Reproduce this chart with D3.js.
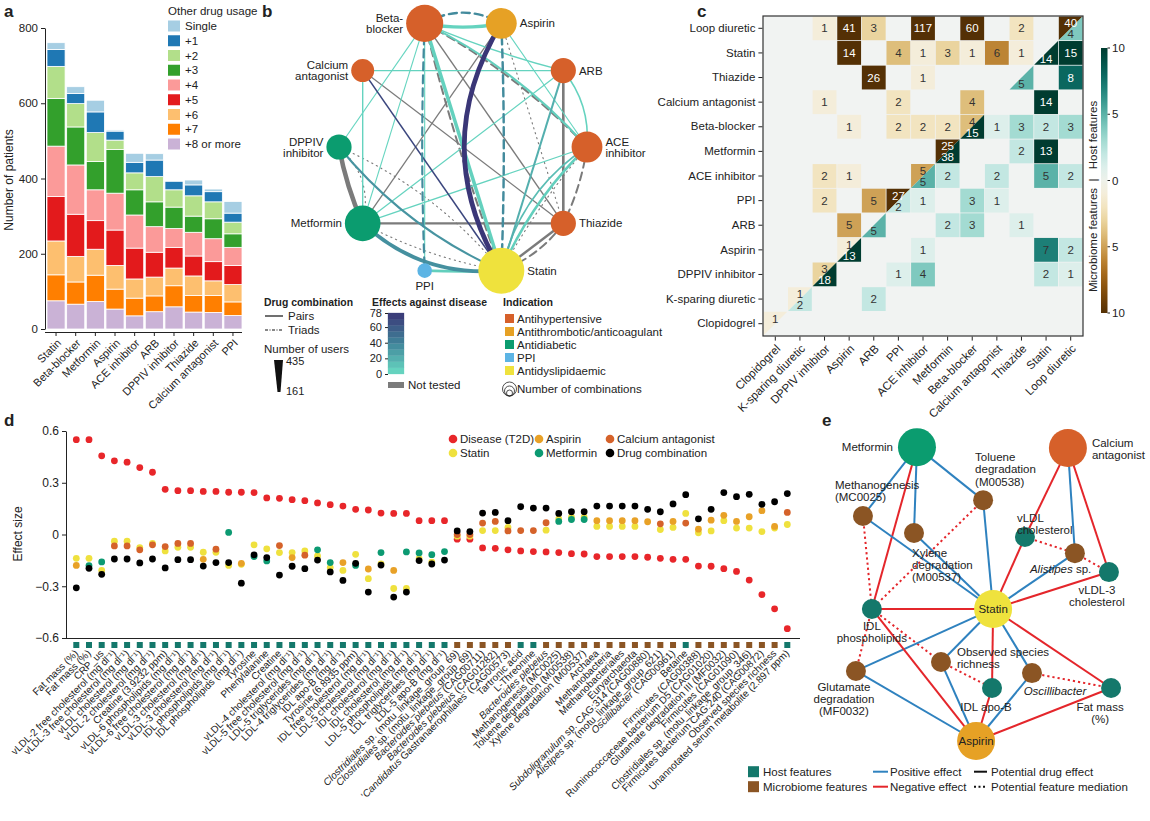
<!DOCTYPE html>
<html>
<head>
<meta charset="utf-8">
<script src="https://cdn.jsdelivr.net/npm/d3@7"></script>
<style>
body { margin: 0; background: #fff; }
svg { font-family: "Liberation Sans", Arial, Helvetica, sans-serif; }
text { fill: #222; }
</style>
</head>
<body>
<svg id="chart" width="1150" height="821"></svg>
<script>
// ---------- panel a: drug usage
const drugsA = ['Statin', 'Beta-blocker', 'Metformin', 'Aspirin', 'ACE inhibitor', 'ARB', 'DPPIV inhibitor', 'Thiazide', 'Calcium antagonist', 'PPI'];
const usageOrder = ['Single', '+1', '+2', '+3', '+4', '+5', '+6', '+7', '+8 or more'];
// patients per drug, from '+8 or more' (bottom) up to 'Single' (top)
const countsA = [
	[75, 69, 90, 118, 134, 127, 85, 45, 18],
	[66, 59, 68, 112, 131, 101, 62, 27, 18],
	[73, 70, 69, 76, 82, 75, 77, 55, 31],
	[53, 53, 63, 94, 98, 116, 25, 24, 3],
	[35, 47, 51, 82, 88, 67, 45, 28, 24],
	[46, 42, 50, 66, 68, 66, 67, 44, 17],
	[59, 56, 47, 55, 50, 57, 46, 23, 2],
	[45, 44, 52, 53, 63, 43, 54, 29, 13],
	[44, 45, 39, 51, 61, 53, 45, 27, 7],
	[36, 36, 46, 51, 48, 36, 31, 24, 31],
];

// ---------- panel b: drug combination network
const bDrugs = ['Beta-blocker', 'Aspirin', 'ARB', 'ACE inhibitor', 'Thiazide', 'Statin', 'PPI', 'Metformin', 'DPPIV inhibitor', 'Calcium antagonist'];
const bClass = ['Antihypertensive', 'Antithrombotic/anticoagulant', 'Antihypertensive', 'Antihypertensive', 'Antihypertensive', 'Antidyslipidaemic', 'PPI', 'Antidiabetic', 'Antidiabetic', 'Antihypertensive'];
const bCombos = [13, 9, 6, 9, 6, 20, 2, 12, 6, 5];
const indications = ['Antihypertensive', 'Antithrombotic/anticoagulant', 'Antidiabetic', 'PPI', 'Antidyslipidaemic'];
// [drug, drug, effects against disease (null = not tested), users, kind]
const bEdges = [
	['Beta-blocker', 'Thiazide', null, 190, 'pair'],
	['Calcium antagonist', 'Thiazide', null, 180, 'pair'],
	['Aspirin', 'Metformin', null, 180, 'pair'],
	['Metformin', 'Thiazide', null, 240, 'pair'],
	['ARB', 'Thiazide', null, 270, 'pair'],
	['Thiazide', 'Statin', null, 260, 'pair'],
	['DPPIV inhibitor', 'Metformin', null, 400, 'pair'],
	['Beta-blocker', 'Statin', null, 230, 'triad'],
	['Beta-blocker', 'ACE inhibitor', null, 230, 'triad'],
	['ACE inhibitor', 'Thiazide', null, 230, 'triad'],
	['Thiazide', 'Statin', null, 230, 'triad'],
	['Aspirin', 'Thiazide', null, 170, 'triad'],
	['ACE inhibitor', 'Statin', null, 170, 'triad'],
	['DPPIV inhibitor', 'Metformin', null, 170, 'triad'],
	['DPPIV inhibitor', 'Statin', null, 170, 'triad'],
	['Metformin', 'Statin', null, 170, 'triad'],
	['Beta-blocker', 'Aspirin', 4, 310, 'pair'],
	['Beta-blocker', 'ARB', 4, 190, 'pair'],
	['Beta-blocker', 'ACE inhibitor', 6, 240, 'pair'],
	['Aspirin', 'ACE inhibitor', 3, 170, 'pair'],
	['Beta-blocker', 'DPPIV inhibitor', 3, 170, 'pair'],
	['Beta-blocker', 'Metformin', 3, 170, 'pair'],
	['Beta-blocker', 'Statin', 5, 330, 'pair'],
	['Beta-blocker', 'PPI', 3, 170, 'pair'],
	['Calcium antagonist', 'ARB', 4, 190, 'pair'],
	['Calcium antagonist', 'Metformin', 4, 190, 'pair'],
	['ARB', 'Metformin', 4, 180, 'pair'],
	['ARB', 'ACE inhibitor', 4, 200, 'pair'],
	['ACE inhibitor', 'Metformin', 4, 180, 'pair'],
	['PPI', 'Statin', 6, 270, 'pair'],
	['ACE inhibitor', 'Statin', 6, 260, 'pair'],
	['ACE inhibitor', 'Statin', 14, 200, 'pair'],
	['ARB', 'Statin', 20, 230, 'pair'],
	['DPPIV inhibitor', 'Statin', 32, 230, 'pair'],
	['Metformin', 'Statin', 34, 350, 'pair'],
	['Calcium antagonist', 'Statin', 70, 200, 'pair'],
	['Beta-blocker', 'Aspirin', 36, 260, 'triad'],
	['Beta-blocker', 'PPI', 36, 240, 'triad'],
	['Aspirin', 'Statin', 36, 260, 'triad'],
	['Aspirin', 'Statin', 78, 420, 'pair'],
];

// ---------- panel c: number of features per drug pair
const cDrugs = ['Clopidogrel', 'K-sparing diuretic', 'DPPIV inhibitor', 'Aspirin', 'ARB', 'PPI', 'ACE inhibitor', 'Metformin', 'Beta-blocker', 'Calcium antagonist', 'Thiazide', 'Statin', 'Loop diuretic'];
const cMicrobiome = [
	['Loop diuretic', 'DPPIV inhibitor', 1], ['Loop diuretic', 'Aspirin', 41], ['Loop diuretic', 'ARB', 3], ['Loop diuretic', 'ACE inhibitor', 117],
	['Loop diuretic', 'Beta-blocker', 60], ['Loop diuretic', 'Thiazide', 2], ['Loop diuretic', 'Loop diuretic', 40],
	['Statin', 'Aspirin', 14], ['Statin', 'PPI', 4], ['Statin', 'ACE inhibitor', 1], ['Statin', 'Metformin', 3],
	['Statin', 'Beta-blocker', 1], ['Statin', 'Calcium antagonist', 6], ['Statin', 'Thiazide', 1],
	['Thiazide', 'ARB', 26], ['Thiazide', 'ACE inhibitor', 1],
	['Calcium antagonist', 'DPPIV inhibitor', 1], ['Calcium antagonist', 'PPI', 2], ['Calcium antagonist', 'Beta-blocker', 4],
	['Beta-blocker', 'Aspirin', 1], ['Beta-blocker', 'PPI', 2], ['Beta-blocker', 'ACE inhibitor', 2], ['Beta-blocker', 'Metformin', 2], ['Beta-blocker', 'Beta-blocker', 4],
	['Metformin', 'Metformin', 25],
	['ACE inhibitor', 'DPPIV inhibitor', 2], ['ACE inhibitor', 'Aspirin', 1], ['ACE inhibitor', 'ACE inhibitor', 5],
	['PPI', 'DPPIV inhibitor', 2], ['PPI', 'ARB', 5], ['PPI', 'PPI', 27],
	['ARB', 'Aspirin', 5],
	['Aspirin', 'Aspirin', 1],
	['DPPIV inhibitor', 'DPPIV inhibitor', 3],
	['K-sparing diuretic', 'K-sparing diuretic', 1],
	['Clopidogrel', 'Clopidogrel', 1],
];
const cHost = [
	['Loop diuretic', 'Loop diuretic', 4],
	['Statin', 'Statin', 14], ['Statin', 'Loop diuretic', 15],
	['Thiazide', 'Thiazide', 5], ['Thiazide', 'Loop diuretic', 8],
	['Calcium antagonist', 'Statin', 14],
	['Beta-blocker', 'Beta-blocker', 15], ['Beta-blocker', 'Calcium antagonist', 1], ['Beta-blocker', 'Thiazide', 3], ['Beta-blocker', 'Statin', 2], ['Beta-blocker', 'Loop diuretic', 3],
	['Metformin', 'Metformin', 38], ['Metformin', 'Thiazide', 2], ['Metformin', 'Statin', 13],
	['ACE inhibitor', 'ACE inhibitor', 5], ['ACE inhibitor', 'Metformin', 2], ['ACE inhibitor', 'Calcium antagonist', 2], ['ACE inhibitor', 'Statin', 5], ['ACE inhibitor', 'Loop diuretic', 2],
	['PPI', 'PPI', 2], ['PPI', 'ACE inhibitor', 1], ['PPI', 'Beta-blocker', 3], ['PPI', 'Calcium antagonist', 1],
	['ARB', 'ARB', 5], ['ARB', 'Metformin', 2], ['ARB', 'Beta-blocker', 3], ['ARB', 'Thiazide', 1],
	['Aspirin', 'Aspirin', 13], ['Aspirin', 'ACE inhibitor', 1], ['Aspirin', 'Statin', 7], ['Aspirin', 'Loop diuretic', 2],
	['DPPIV inhibitor', 'DPPIV inhibitor', 18], ['DPPIV inhibitor', 'PPI', 1], ['DPPIV inhibitor', 'ACE inhibitor', 4], ['DPPIV inhibitor', 'Statin', 2], ['DPPIV inhibitor', 'Loop diuretic', 1],
	['K-sparing diuretic', 'K-sparing diuretic', 2], ['K-sparing diuretic', 'ARB', 2],
];

// ---------- panel d: effect sizes per feature
const featuresD = [
	'Fat mass (%)', 'Fat mass (%)', 'CRP_us', 'vLDL-2 free cholesterol (mg dl⁻¹)', 'vLDL-3 free cholesterol (mg dl⁻¹)',
	'vLDL cholesterol (mg dl⁻¹)', 'vLDL-2 cholesterol (mg dl⁻¹)', 'Creatine (3.9232 ppm)', 'vLDL-6 phospholipids (mg dl⁻¹)',
	'vLDL-6 free cholesterol (mg dl⁻¹)', 'vLDL-3 cholesterol (mg dl⁻¹)', 'vLDL-3 cholesterol (mg dl⁻¹)', 'IDL phospholipids (mg dl⁻¹)',
	'IDL phospholipids (mg dl⁻¹)', 'Tyrosine', 'Phenylalanine', 'Creatine', 'vLDL-4 cholesterol (mg dl⁻¹)',
	'vLDL-5 free cholesterol (mg dl⁻¹)', 'LDL-5 triglycerides (mg dl⁻¹)', 'LDL-4 triglycerides (mg dl⁻¹)', 'IDL apo-B (mg dl⁻¹)',
	'Tyrosine (6.8935 ppm)', 'IDL free cholesterol (mg dl⁻¹)', 'LDL-5 cholesterol (mg dl⁻¹)', 'IDL cholesterol (mg dl⁻¹)',
	'IDL cholesterol (mg dl⁻¹)', 'LDL-5 phospholipids (mg dl⁻¹)', 'LDL triglycerides (mg dl⁻¹)', 'LDL-5 apo-B (mg dl⁻¹)',
	'*Clostridiales* sp. (motu_linkage_group_69)', '*Clostridiales* sp. (motu_linkage_group_69)', '*Bacteroides plebeius* (CAG00711)',
	'*Bacteroides plebeius* (CAG01282)', '‘*Candidatus* Gastranaerophilales’ (CAG00573)', 'Tartronic acid', 'L-Threonine',
	'*Bacteroides plebeius*', 'Methanogenesis (MC0025)', 'Toluene degradation (M00538)', 'Xylene degradation (M00537)', 'Archaea',
	'Methanobacteria', 'Methanobacteriales', 'Euryarchaeota', '*Subdoligranulum* sp. CAG:314 (CAG00880)',
	'*Alistipes* sp. (motu_linkage_group_621)', '*Oscillibacter* (CAG00961)', 'Betaine', 'Firmicutes (CAG00388)',
	'Ruminococcaceae bacterium D5 (CAG01020)', 'Glutamate degradation III (MF0032)', 'Firmicutes (CAG01090)',
	'Clostridiales sp. (motu_linkage_group_346)', 'Firmicutes bacterium CAG:240 (CAG00872)', 'Observed species richness',
	'Unannotated serum metabolite (2.897 ppm)',
];
const featureTypeD = 'HHHHHHHHHHHHHHHHHHHHHHHHHHHHHHMMMMMHHMMMMMMMMMMMHMMMMMMMH'.split('');
const seriesNamesD = ['Disease (T2D)', 'Aspirin', 'Calcium antagonist', 'Statin', 'Metformin', 'Drug combination'];
const t2dD = [0.55, 0.55, 0.456, 0.427, 0.419, 0.388, 0.361, 0.262, 0.254, 0.254, 0.25, 0.25, 0.245, 0.245, 0.243, 0.212, 0.21, 0.202, 0.196, 0.183, 0.173, 0.165, 0.146, 0.142, 0.124, 0.122, 0.122, 0.08, 0.08, 0.08,
	-0.027, -0.027, -0.078, -0.08, -0.089, -0.095, -0.099, -0.101, -0.105, -0.111, -0.113, -0.128, -0.128, -0.128, -0.128, -0.132, -0.138, -0.144, -0.144, -0.183, -0.184, -0.198, -0.214, -0.264, -0.348, -0.431, -0.546];
const aspirinD = [-0.179, null, null, null, null, null, null, null, null, null, -0.144, null, null, -0.167, null, null, null, -0.134, null, null, null, -0.163, null, -0.2, null, -0.208, null, null, null, null,
	null, null, null, null, null, null, null, null, null, null, null, 0.08, 0.08, 0.08, 0.08, 0.074, null, 0.076, null, 0.031, 0.083, 0.111, 0.076, 0.103, 0.138, 0.047, null];
const calciumD = [null, null, null, -0.066, -0.066, -0.089, -0.06, -0.07, -0.052, -0.052, null, -0.085, null, null, null, null, -0.064, null, -0.12, null, null, null, null, null, null, null, null, null, null, null,
	0.0, 0.0, 0.066, 0.076, 0.021, 0.023, 0.023, 0.068, null, null, null, null, null, null, null, null, 0.062, null, 0.066, null, null, null, null, null, null, null, 0.128];
const statinD = [-0.138, -0.138, -0.208, -0.039, -0.039, -0.076, -0.052, -0.095, -0.074, -0.074, -0.103, -0.103, -0.179, -0.173, -0.06, -0.083, -0.105, -0.105, -0.095, -0.124, -0.192, -0.208, -0.115, -0.256, -0.17, -0.313, -0.313, -0.14, -0.16, null,
	-0.01, -0.01, 0.023, 0.023, 0.041, null, null, 0.025, 0.09, 0.1, 0.1, 0.047, 0.047, 0.047, 0.047, null, 0.029, 0.041, 0.122, 0.01, 0.021, 0.08, 0.037, 0.037, 0.017, 0.037, 0.058];
const metforminD = [null, -0.18, -0.159, null, null, null, null, null, null, null, null, null, 0.012, null, -0.128, -0.153, null, null, null, -0.089, -0.163, null, -0.179, null, -0.105, null, -0.101, -0.107, -0.117, -0.099,
	null, null, null, null, null, null, null, null, 0.076, 0.087, 0.087, null, null, null, null, null, null, null, null, null, null, null, null, null, null, null, null];
const comboD = [-0.309, -0.196, -0.231, -0.142, -0.142, -0.165, -0.142, -0.194, -0.146, -0.146, -0.183, -0.163, -0.163, -0.282, -0.118, -0.134, -0.235, -0.184, -0.198, -0.148, -0.217, -0.266, -0.167, -0.334, -0.177, -0.363, -0.334, -0.151, -0.171, -0.148,
	0.021, 0.017, 0.124, 0.128, 0.08, 0.161, 0.153, 0.153, 0.122, 0.132, 0.132, 0.165, 0.165, 0.165, 0.165, 0.146, 0.132, 0.177, 0.231, 0.091, 0.146, 0.243, 0.219, 0.233, 0.175, 0.19, 0.237];

// ---------- panel e: drug / feature network (layout units 0-100)
const eNodes = [
	['Metformin', 'drug', 24.8, 2.3], ['Calcium antagonist', 'drug', 80.7, 2.6],
	['Methanogenesis (MC0025)', 'microbiome', 4.8, 24.5], ['Toluene degradation (M00538)', 'microbiome', 49.3, 19.4],
	['Xylene degradation (M00537)', 'microbiome', 23.7, 30], ['vLDL cholesterol', 'host', 64.8, 31.3],
	['Alistipes sp.', 'microbiome', 83.3, 36.5], ['vLDL-3 cholesterol', 'host', 95.9, 42.6],
	['Statin', 'drug', 53, 54.5], ['IDL phospholipids', 'host', 8.1, 54.5],
	['Glutamate degradation (MF0032)', 'microbiome', 2.2, 74.5], ['Observed species richness', 'microbiome', 33.7, 71.6],
	['IDL apo-B', 'host', 52.6, 80], ['Oscillibacter', 'microbiome', 67.4, 75.2],
	['Fat mass (%)', 'host', 96.7, 80], ['Aspirin', 'drug', 46.7, 97.1],
];
const eEdges = [
	['Methanogenesis (MC0025)', 'IDL phospholipids', '-', 'mediation'],
	['Toluene degradation (M00538)', 'IDL phospholipids', '-', 'mediation'],
	['vLDL cholesterol', 'Alistipes sp.', '-', 'mediation'],
	['Alistipes sp.', 'vLDL-3 cholesterol', '-', 'mediation'],
	['IDL phospholipids', 'Glutamate degradation (MF0032)', '-', 'mediation'],
	['IDL phospholipids', 'Observed species richness', '-', 'mediation'],
	['Observed species richness', 'IDL apo-B', '-', 'mediation'],
	['Oscillibacter', 'Fat mass (%)', '-', 'mediation'],
	['Metformin', 'Methanogenesis (MC0025)', '+', 'drug'],
	['Metformin', 'Xylene degradation (M00537)', '+', 'drug'],
	['Metformin', 'Toluene degradation (M00538)', '+', 'drug'],
	['Metformin', 'IDL phospholipids', '-', 'drug'],
	['Calcium antagonist', 'vLDL cholesterol', '-', 'drug'],
	['Calcium antagonist', 'Alistipes sp.', '+', 'drug'],
	['Calcium antagonist', 'vLDL-3 cholesterol', '-', 'drug'],
	['Statin', 'Methanogenesis (MC0025)', '+', 'drug'],
	['Statin', 'Xylene degradation (M00537)', '+', 'drug'],
	['Statin', 'Toluene degradation (M00538)', '+', 'drug'],
	['Statin', 'vLDL cholesterol', '-', 'drug'],
	['Statin', 'Alistipes sp.', '+', 'drug'],
	['Statin', 'vLDL-3 cholesterol', '-', 'drug'],
	['Statin', 'IDL phospholipids', '-', 'drug'],
	['Statin', 'Glutamate degradation (MF0032)', '+', 'drug'],
	['Statin', 'Observed species richness', '+', 'drug'],
	['Statin', 'IDL apo-B', '-', 'drug'],
	['Statin', 'Oscillibacter', '+', 'drug'],
	['Statin', 'Fat mass (%)', '-', 'drug'],
	['Aspirin', 'IDL phospholipids', '-', 'drug'],
	['Aspirin', 'Glutamate degradation (MF0032)', '+', 'drug'],
	['Aspirin', 'Observed species richness', '+', 'drug'],
	['Aspirin', 'IDL apo-B', '-', 'drug'],
	['Aspirin', 'Oscillibacter', '+', 'drug'],
	['Aspirin', 'Fat mass (%)', '-', 'drug'],
];

const svg = d3.select('#chart');
const drugColor = {
	'Antihypertensive': '#d6602a',
	'Antithrombotic/anticoagulant': '#e6a125',
	'Antidiabetic': '#0b9c6f',
	'PPI': '#5cb4e4',
	'Antidyslipidaemic': '#efe23d',
};

function styleAxis(g, size) {
	g.attr('font-size', size).attr('font-family', null);
	g.selectAll('text').style('fill', '#222');
	g.selectAll('line, path').attr('stroke', '#222');
}
function richText(sel, str) {
	str.split('*').forEach((part, i) => {
		if (part) sel.append('tspan').attr('font-style', i % 2 ? 'italic' : null).text(part);
	});
}
function panelLabel(t, x, y) {
	svg.append('text').attr('x', x).attr('y', y).attr('font-size', 17).attr('font-weight', 'bold').text(t);
}

// ================= a =================
{
	const g = svg.append('g');
	const x = d3.scaleBand().domain(drugsA).range([47, 242]).paddingInner(0.08);
	const y = d3.scaleLinear().domain([0, 800]).range([329, 28]);
	const color = d3.scaleOrdinal().domain(usageOrder).range(d3.schemePaired);
	const keys = usageOrder.slice().reverse();
	const rows = drugsA.map((d, i) => {
		const r = { drug: d };
		keys.forEach((k, j) => (r[k] = countsA[i][j]));
		return r;
	});
	const stacked = d3.stack().keys(keys)(rows);
	g.selectAll('g.layer').data(stacked).join('g').attr('fill', (s) => color(s.key))
		.selectAll('rect').data((s) => s).join('rect')
		.attr('x', (d) => x(d.data.drug))
		.attr('width', x.bandwidth())
		.attr('y', (d) => y(d[1]))
		.attr('height', (d) => y(d[0]) - y(d[1]))
		.attr('stroke', '#fff').attr('stroke-width', 0.8);

	const ya = g.append('g').attr('transform', 'translate(45,0)')
		.call(d3.axisLeft(y).tickValues([0, 200, 400, 600, 800]).tickSize(4).tickSizeOuter(0));
	styleAxis(ya, 11.5);
	const xa = g.append('g').attr('transform', 'translate(0,332)')
		.call(d3.axisBottom(x).tickSize(4).tickSizeOuter(0));
	styleAxis(xa, 11);
	xa.select('.domain').attr('d', 'M45,0.5H242');
	xa.selectAll('text').attr('x', 0).attr('y', 0).attr('dy', '0.35em')
		.attr('text-anchor', 'end').attr('transform', 'translate(3,9) rotate(-45)');
	g.append('text').attr('transform', 'translate(13,180) rotate(-90)').attr('text-anchor', 'middle')
		.attr('font-size', 12).text('Number of patients');

	const leg = g.append('g').attr('transform', 'translate(168,0)');
	leg.append('text').attr('x', 0).attr('y', 15).attr('font-size', 11.5).text('Other drug usage');
	const li = leg.selectAll('g.li').data(usageOrder).join('g')
		.attr('transform', (d, i) => `translate(0,${26 + i * 14.75})`);
	li.append('rect').attr('x', 0).attr('y', -5.5).attr('width', 12).attr('height', 11).attr('fill', (d) => color(d));
	li.append('text').attr('x', 17).attr('dy', '0.35em').attr('font-size', 11.5).text((d) => d);
}

// ================= b =================
{
	const g = svg.append('g');
	const cx = 463, cy = 147, rx = 124, ry = 130;
	const rScale = d3.scaleSqrt().domain([0, 20]).range([0, 23]);
	const nodes = bDrugs.map((d, i) => {
		const a = ((-108 + 36 * i) * Math.PI) / 180;
		return { name: d, cls: bClass[i], r: rScale(bCombos[i]), x: cx + rx * Math.cos(a), y: cy + ry * Math.sin(a), ang: a };
	});
	const byName = new Map(nodes.map((n) => [n.name, n]));
	const effColor = d3.scaleLinear().domain([0, 40, 78]).range(['#69dcc3', '#3f8299', '#3a3677']);
	const width = d3.scaleLinear().domain([161, 435]).range([1, 5]);
	// curvature per edge (same order as bEdges)
	const bend = [0, 0, 0, 0, 0, 0, 0.06, 0.03, -0.08, -0.08, -0.15, 0, 0.05, -0.3, -0.12, 0.08,
		0.1, 0.04, -0.1, 0, 0, 0, 0, 0, 0, 0, 0, -0.2, 0, 0.02, 0.1, 0.2, 0, 0.12, 0.22, 0, -0.28, 0.02, -0.02, 0.3];
	function curve(a, b, k) {
		const dx = b.x - a.x, dy = b.y - a.y;
		const mx = (a.x + b.x) / 2 - dy * k, my = (a.y + b.y) / 2 + dx * k;
		return `M${a.x},${a.y}Q${mx},${my} ${b.x},${b.y}`;
	}
	g.selectAll('path.edge').data(bEdges).join('path')
		.attr('d', (e, i) => curve(byName.get(e[0]), byName.get(e[1]), bend[i] || 0))
		.attr('fill', 'none')
		.attr('stroke', (e) => (e[2] === null ? '#7b7b7b' : effColor(e[2])))
		.attr('stroke-width', (e) => width(e[3]))
		.attr('stroke-dasharray', (e) => (e[4] === 'pair' ? null : e[3] < 200 ? '1.2,4' : '8,5'))
		.attr('stroke-linecap', (e) => (e[4] === 'pair' ? null : 'round'));
	g.selectAll('circle.node').data(nodes).join('circle')
		.attr('cx', (d) => d.x).attr('cy', (d) => d.y).attr('r', (d) => d.r)
		.attr('fill', (d) => drugColor[d.cls]);

	const lines = { 'Beta-blocker': ['Beta-', 'blocker'], 'Calcium antagonist': ['Calcium', 'antagonist'], 'DPPIV inhibitor': ['DPPIV', 'inhibitor'], 'ACE inhibitor': ['ACE', 'inhibitor'] };
	nodes.forEach((n) => {
		const ls = lines[n.name] || [n.name];
		const c = Math.cos(n.ang);
		let anchor = c > 0.05 ? 'start' : 'end';
		let tx = n.x + (c > 0.05 ? n.r + 3 : -n.r - 3), ty = n.y;
		if (n.name === 'PPI') { anchor = 'middle'; tx = n.x; ty = n.y + n.r + 8; }
		const t = g.append('text').attr('font-size', 11.5).attr('text-anchor', anchor);
		ls.forEach((l, i) => {
			t.append('tspan').attr('x', tx).attr('y', ty + (i - (ls.length - 1) / 2) * 11).attr('dy', '0.35em').text(l);
		});
	});

	// legends
	const L = g.append('g');
	const title = (t, x0, w) => L.append('text').attr('x', x0).attr('y', 306).attr('font-size', 11.5).attr('font-weight', 'bold')
		.attr('textLength', w).attr('lengthAdjust', 'spacingAndGlyphs').text(t);
	title('Drug combination', 264, 89);
	L.append('line').attr('x1', 265).attr('x2', 283).attr('y1', 316).attr('y2', 316).attr('stroke', '#111').attr('stroke-width', 1.2);
	L.append('text').attr('x', 288).attr('y', 316).attr('dy', '0.35em').attr('font-size', 11.5).text('Pairs');
	L.append('line').attr('x1', 265).attr('x2', 283).attr('y1', 330).attr('y2', 330).attr('stroke', '#111').attr('stroke-width', 1).attr('stroke-dasharray', '3,1.5,1,1.5');
	L.append('text').attr('x', 288).attr('y', 330).attr('dy', '0.35em').attr('font-size', 11.5).text('Triads');
	L.append('text').attr('x', 264).attr('y', 353).attr('font-size', 11.5).text('Number of users');
	L.append('path').attr('d', 'M274,360L283,360L280.5,392L277.5,392Z').attr('fill', '#111');
	L.append('text').attr('x', 286).attr('y', 361).attr('dy', '0.35em').attr('font-size', 11).text('435');
	L.append('text').attr('x', 286).attr('y', 391).attr('dy', '0.35em').attr('font-size', 11).text('161');

	title('Effects against disease', 372, 115);
	const cbY = d3.scaleLinear().domain([0, 78]).range([374, 313]);
	const bands = d3.range(0, 78, 78 / 10);
	L.selectAll('rect.cb').data(bands).join('rect')
		.attr('x', 388).attr('width', 16)
		.attr('y', (d) => cbY(d + 7.8)).attr('height', cbY(0) - cbY(7.8))
		.attr('fill', (d) => effColor(d + 3.9))
		.attr('stroke', (d) => effColor(d + 3.9)).attr('stroke-width', 0.3);
	const cba = L.append('g').attr('transform', 'translate(388,0)')
		.call(d3.axisLeft(cbY).tickValues([0, 20, 40, 60, 78]).tickSize(3).tickSizeOuter(0));
	styleAxis(cba, 11);
	cba.select('.domain').remove();
	L.append('rect').attr('x', 388).attr('y', 382).attr('width', 16).attr('height', 6).attr('fill', '#7b7b7b');
	L.append('text').attr('x', 408).attr('y', 385).attr('dy', '0.35em').attr('font-size', 11.5).text('Not tested');

	title('Indication', 503, 50);
	const il = L.selectAll('g.ind').data(indications).join('g').attr('transform', (d, i) => `translate(505,${318.5 + i * 13})`);
	il.append('rect').attr('x', 0).attr('y', -4.5).attr('width', 9).attr('height', 9).attr('fill', (d) => drugColor[d]);
	il.append('text').attr('x', 12).attr('dy', '0.35em').attr('font-size', 11.5).text((d) => d);
	[7, 5, 3].forEach((r) => {
		L.append('circle').attr('cx', 509.5).attr('cy', 396 - r).attr('r', r).attr('fill', 'none').attr('stroke', '#222').attr('stroke-width', 0.8);
	});
	L.append('text').attr('x', 517).attr('y', 389).attr('dy', '0.35em').attr('font-size', 11.5).text('Number of combinations');
}

// ================= c =================
{
	const g = svg.append('g');
	const rowsC = cDrugs.slice().reverse();
	const x = d3.scaleBand().domain(cDrugs).range([763, 1083]);
	const y = d3.scaleBand().domain(rowsC).range([16, 336]);
	const hostCol = (v) => d3.interpolateBrBG(0.5 + Math.min(v, 10) / 20);
	const microCol = (v) => d3.interpolateBrBG(0.5 - Math.min(v, 10) / 20);
	const bw = x.bandwidth(), bh = y.bandwidth();
	g.append('rect').attr('x', 763).attr('y', 16).attr('width', 320).attr('height', 320).attr('fill', '#f1f3f2');

	const cells = [];
	cMicrobiome.forEach(([r, c, v]) => cells.push({ r, c, v, type: 'micro' }));
	cHost.forEach(([r, c, v]) => cells.push({ r, c, v, type: 'host' }));
	cells.forEach((d) => {
		d.x0 = x(d.c); d.y0 = y(d.r); d.diag = d.r === d.c;
	});
	g.selectAll('rect.cell').data(cells.filter((d) => !d.diag)).join('rect')
		.attr('x', (d) => d.x0 + 0.4).attr('y', (d) => d.y0 + 0.4)
		.attr('width', bw - 0.8).attr('height', bh - 0.8)
		.attr('fill', (d) => (d.type === 'host' ? hostCol(d.v) : microCol(d.v)));
	g.selectAll('path.tri').data(cells.filter((d) => d.diag)).join('path')
		.attr('d', (d) => {
			const a = d.x0 + 0.4, b = d.y0 + 0.4, w = bw - 0.8, h = bh - 0.8;
			return d.type === 'micro'
				? `M${a},${b}H${a + w}L${a},${b + h}Z`
				: `M${a + w},${b}V${b + h}H${a}Z`;
		})
		.attr('fill', (d) => (d.type === 'host' ? hostCol(d.v) : microCol(d.v)));
	g.selectAll('text.val').data(cells).join('text')
		.attr('x', (d) => d.x0 + bw / 2)
		.attr('y', (d) => d.y0 + bh / 2 + (d.diag ? (d.type === 'micro' ? -5 : 6) : 0))
		.attr('dy', '0.35em').attr('text-anchor', 'middle').attr('font-size', 11.5)
		.style('fill', (d) => (d.v >= 8 ? '#fff' : '#333'))
		.text((d) => d.v);
	g.append('rect').attr('x', 763).attr('y', 16).attr('width', 320).attr('height', 320)
		.attr('fill', 'none').attr('stroke', '#333').attr('stroke-width', 1.2);

	const ya = g.append('g').attr('transform', 'translate(762.4,0)').call(d3.axisLeft(y).tickSize(4).tickSizeOuter(0));
	styleAxis(ya, 11.5);
	ya.select('.domain').remove();
	const xa = g.append('g').attr('transform', 'translate(0,336.6)').call(d3.axisBottom(x).tickSize(4).tickSizeOuter(0));
	styleAxis(xa, 11.5);
	xa.select('.domain').remove();
	xa.selectAll('text').attr('x', 0).attr('y', 0).attr('dy', '0.35em')
		.attr('text-anchor', 'end').attr('transform', 'translate(3,10) rotate(-45)');

	// colour bar
	const defs = svg.append('defs');
	const grad = defs.append('linearGradient').attr('id', 'brbg').attr('x1', 0).attr('x2', 0).attr('y1', 0).attr('y2', 1);
	d3.range(0, 1.0001, 0.05).forEach((t) => grad.append('stop').attr('offset', t).attr('stop-color', d3.interpolateBrBG(1 - t)));
	g.append('rect').attr('x', 1101).attr('y', 48).attr('width', 6.5).attr('height', 265).attr('fill', 'url(#brbg)');
	const cbs = d3.scaleLinear().domain([0, 4]).range([48, 313]);
	const cbl = ['10', '5', '0', '5', '10'];
	cbl.forEach((t, i) => {
		g.append('line').attr('x1', 1107.5).attr('x2', 1110).attr('y1', cbs(i)).attr('y2', cbs(i)).attr('stroke', '#222');
		g.append('text').attr('x', 1112).attr('y', cbs(i)).attr('dy', '0.35em').attr('font-size', 11.5).text(t);
	});
	g.append('text').attr('transform', 'translate(1093,135) rotate(-90)').attr('text-anchor', 'middle').attr('dy', '0.35em').attr('font-size', 11.5).text('Host features');
	g.append('text').attr('transform', 'translate(1093,180) rotate(-90)').attr('text-anchor', 'middle').attr('dy', '0.35em').attr('font-size', 11.5).text('|');
	g.append('text').attr('transform', 'translate(1093,240) rotate(-90)').attr('text-anchor', 'middle').attr('dy', '0.35em').attr('font-size', 11.5).text('Microbiome features');
}

// ================= d =================
{
	const g = svg.append('g');
	const x = d3.scalePoint().domain(d3.range(featuresD.length)).range([76.3, 787.3]);
	const y = d3.scaleLinear().domain([-0.6, 0.6]).range([638, 431]);
	const colors = { 'Disease (T2D)': '#e8262a', 'Aspirin': '#e8a127', 'Calcium antagonist': '#d5622a', 'Statin': '#efe13e', 'Metformin': '#0c9a72', 'Drug combination': '#000' };
	const values = { 'Disease (T2D)': t2dD, 'Aspirin': aspirinD, 'Calcium antagonist': calciumD, 'Statin': statinD, 'Metformin': metforminD, 'Drug combination': comboD };
	const drawOrder = ['Disease (T2D)', 'Statin', 'Aspirin', 'Calcium antagonist', 'Metformin', 'Drug combination'];
	drawOrder.forEach((s) => {
		const pts = values[s].map((v, i) => ({ i, v })).filter((d) => d.v !== null);
		g.selectAll(null).data(pts).join('circle')
			.attr('cx', (d) => x(d.i)).attr('cy', (d) => y(d.v)).attr('r', 3.4)
			.attr('fill', colors[s]);
	});
	const ya = g.append('g').attr('transform', 'translate(66,0)')
		.call(d3.axisLeft(y).tickValues([-0.6, -0.3, 0, 0.3, 0.6]).tickSize(4).tickSizeOuter(0)
			.tickFormat((d) => (d === 0 ? '0' : d3.format('.1f')(d))));
	styleAxis(ya, 12);
	g.append('line').attr('x1', 66).attr('x2', 800).attr('y1', 638.5).attr('y2', 638.5).attr('stroke', '#222');
	g.append('text').attr('transform', 'translate(22,534) rotate(-90)').attr('text-anchor', 'middle').attr('font-size', 12).text('Effect size');

	g.selectAll('rect.ft').data(featureTypeD).join('rect')
		.attr('x', (d, i) => x(i) - 3).attr('y', 642).attr('width', 6).attr('height', 6)
		.attr('fill', (d) => (d === 'H' ? '#14786b' : '#8b5524'));
	featuresD.forEach((f, i) => {
		const t = g.append('text').attr('font-size', 10).attr('text-anchor', 'end')
			.attr('transform', `translate(${x(i) + 2.5},${654}) rotate(-45)`);
		richText(t, f);
	});

	// legend: row 1 Disease, Aspirin, Calcium; row 2 Statin, Metformin, Drug combination
	const leg = g.selectAll('g.dl').data(seriesNamesD).join('g')
		.attr('transform', (d, i) => `translate(${[453, 539, 610][i % 3]},${i < 3 ? 439 : 453})`);
	leg.append('circle').attr('r', 4.3).attr('fill', (d) => colors[d]);
	leg.append('text').attr('x', 7).attr('dy', '0.35em').attr('font-size', 11.5).text((d) => d);
}

// ================= e =================
{
	const g = svg.append('g');
	const x = d3.scaleLinear().domain([0, 100]).range([850, 1120]);
	const y = d3.scaleLinear().domain([0, 100]).range([440, 750]);
	const nodes = eNodes.map(([name, type, u, v]) => ({ name, type, x: x(u), y: y(v) }));
	const byName = new Map(nodes.map((n) => [n.name, n]));
	const typeColor = { host: '#14786b', microbiome: '#8b5524' };
	const drugFill = { 'Metformin': drugColor.Antidiabetic, 'Calcium antagonist': drugColor.Antihypertensive, 'Statin': drugColor.Antidyslipidaemic, 'Aspirin': drugColor['Antithrombotic/anticoagulant'] };

	g.selectAll('line.ee').data(eEdges).join('line')
		.attr('x1', (e) => byName.get(e[0]).x).attr('y1', (e) => byName.get(e[0]).y)
		.attr('x2', (e) => byName.get(e[1]).x).attr('y2', (e) => byName.get(e[1]).y)
		.attr('stroke', (e) => (e[2] === '+' ? '#2f82bf' : '#e4262b'))
		.attr('stroke-width', 2)
		.attr('stroke-dasharray', (e) => (e[3] === 'mediation' ? '2.2,3' : null));
	g.selectAll('circle.en').data(nodes).join('circle')
		.attr('cx', (d) => d.x).attr('cy', (d) => d.y)
		.attr('r', (d) => (d.type === 'drug' ? 19 : 10))
		.attr('fill', (d) => (d.type === 'drug' ? drugFill[d.name] : typeColor[d.type]));

	// label placement: [dx, first-line dy, anchor, lines]
	const place = {
		'Metformin': [-24, 0, 'end', ['Metformin']],
		'Calcium antagonist': [24, -5, 'start', ['Calcium', 'antagonist']],
		'Methanogenesis (MC0025)': [-28, -31, 'start', ['Methanogenesis', '(MC0025)']],
		'Toluene degradation (M00538)': [-8, -43, 'start', ['Toluene', 'degradation', '(M00538)']],
		'Xylene degradation (M00537)': [-2, 20, 'start', ['Xylene', 'degradation', '(M00537)']],
		'vLDL cholesterol': [-8, -19, 'start', ['vLDL', 'cholesterol']],
		'Alistipes sp.': [-45, 16, 'start', ['*Alistipes* sp.']],
		'vLDL-3 cholesterol': [-12, 18, 'middle', ['vLDL-3', 'cholesterol']],
		'Statin': [0, 0, 'middle', ['Statin']],
		'IDL phospholipids': [0, 17, 'middle', ['IDL', 'phospholipids']],
		'Glutamate degradation (MF0032)': [-12, 16, 'middle', ['Glutamate', 'degradation', '(MF0032)']],
		'Observed species richness': [16, -10, 'start', ['Observed species', 'richness']],
		'IDL apo-B': [-6, 19, 'middle', ['IDL apo-B']],
		'Oscillibacter': [23, 18, 'middle', ['*Oscillibacter*']],
		'Fat mass (%)': [-11, 19, 'middle', ['Fat mass', '(%)']],
		'Aspirin': [0, 0, 'middle', ['Aspirin']],
	};
	nodes.forEach((n) => {
		const [dx, dy, anchor, ls] = place[n.name];
		ls.forEach((l, i) => {
			const t = g.append('text').attr('x', n.x + dx).attr('y', n.y + dy + i * 12.2).attr('dy', '0.35em')
				.attr('text-anchor', anchor).attr('font-size', 11.5);
			richText(t, l);
		});
	});

	// legend
	const L = g.append('g');
	[['Host features', '#14786b', 771.7], ['Microbiome features', '#8b5524', 786.7]].forEach(([t, c, yy]) => {
		L.append('rect').attr('x', 748).attr('y', yy - 5.5).attr('width', 11).attr('height', 11).attr('fill', c);
		L.append('text').attr('x', 763).attr('y', yy).attr('dy', '0.35em').attr('font-size', 11.5).text(t);
	});
	[['Positive effect', '#2f82bf', 771.7], ['Negative effect', '#e4262b', 786.7]].forEach(([t, c, yy]) => {
		L.append('line').attr('x1', 873).attr('x2', 888).attr('y1', yy).attr('y2', yy).attr('stroke', c).attr('stroke-width', 2);
		L.append('text').attr('x', 890).attr('y', yy).attr('dy', '0.35em').attr('font-size', 11.5).text(t);
	});
	[['Potential drug effect', null, 771.7], ['Potential feature mediation', '2,2.5', 786.7]].forEach(([t, dash, yy]) => {
		L.append('line').attr('x1', 974).attr('x2', 987).attr('y1', yy).attr('y2', yy).attr('stroke', '#111').attr('stroke-width', 2).attr('stroke-dasharray', dash);
		L.append('text').attr('x', 991).attr('y', yy).attr('dy', '0.35em').attr('font-size', 11.5).text(t);
	});
}

panelLabel('a', 4, 17);
panelLabel('b', 262, 17);
panelLabel('c', 697, 17);
panelLabel('d', 4, 426);
panelLabel('e', 822, 426);
</script>
</body>
</html>
